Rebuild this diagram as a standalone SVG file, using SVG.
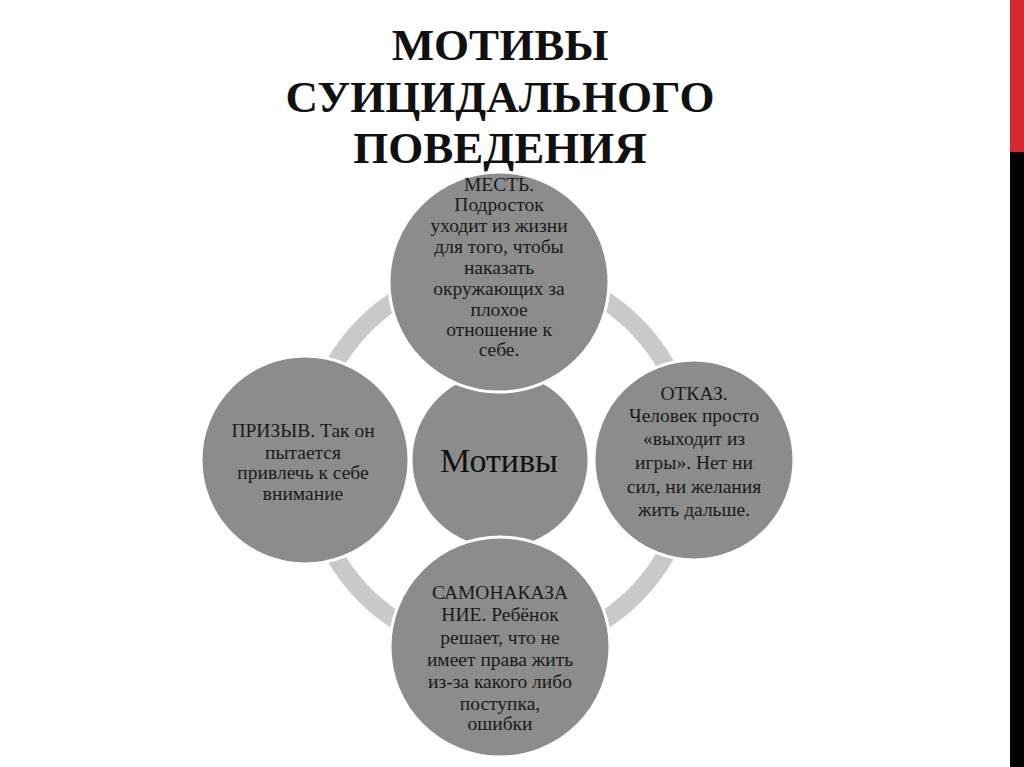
<svg xmlns="http://www.w3.org/2000/svg" width="1024" height="767" viewBox="0 0 1024 767" font-family="Liberation Serif, serif">
<style>
.title{font-family:'Liberation Serif',serif;font-weight:bold;font-size:45px;fill:#111;text-anchor:middle}
.node{fill:#8c8c8c;stroke:#fff;stroke-width:3}
.t{font-family:'Liberation Serif',serif;font-size:19.5px;fill:#1a1a1a;text-anchor:middle}
.c{font-family:'Liberation Serif',serif;font-size:34px;fill:#111;text-anchor:middle}
</style>
<rect width="1024" height="767" fill="#fff"/>
<rect x="1010" y="0" width="14" height="152" fill="#d42a30"/>
<rect x="1010" y="152" width="14" height="615" fill="#000"/>
<g id="title">
<text class="title" x="500" y="60">МОТИВЫ</text>
<text class="title" x="500" y="112">СУИЦИДАЛЬНОГО</text>
<text class="title" x="500" y="163">ПОВЕДЕНИЯ</text>
</g>
<g id="connectors">
<circle cx="500" cy="460" r="191" fill="none" stroke="#c9c9c9" stroke-width="18"/>
</g>
<g id="node-center">
<circle class="node" cx="500" cy="460" r="89"/>
<text class="c" x="499" y="472">Мотивы</text>
</g>
<g id="node-top">
<circle class="node" cx="499" cy="282" r="110"/>
<text class="t" x="499" y="191">МЕСТЬ.</text>
<text class="t" x="499" y="211">Подросток</text>
<text class="t" x="499" y="232">уходит из жизни</text>
<text class="t" x="499" y="253">для того, чтобы</text>
<text class="t" x="499" y="274">наказать</text>
<text class="t" x="499" y="295">окружающих за</text>
<text class="t" x="499" y="316">плохое</text>
<text class="t" x="499" y="336">отношение к</text>
<text class="t" x="499" y="356">себе.</text>
</g>
<g id="node-left">
<circle class="node" cx="305" cy="460" r="104"/>
<text class="t" x="303" y="437">ПРИЗЫВ. Так он</text>
<text class="t" x="303" y="459">пытается</text>
<text class="t" x="303" y="479">привлечь к себе</text>
<text class="t" x="303" y="500">внимание</text>
</g>
<g id="node-right">
<circle class="node" cx="694" cy="460" r="100"/>
<text class="t" x="694" y="400">ОТКАЗ.</text>
<text class="t" x="694" y="422">Человек просто</text>
<text class="t" x="694" y="445">«выходит из</text>
<text class="t" x="694" y="469">игры». Нет ни</text>
<text class="t" x="694" y="493">сил, ни желания</text>
<text class="t" x="694" y="516">жить дальше.</text>
</g>
<g id="node-bottom">
<circle class="node" cx="500" cy="647" r="110"/>
<text class="t" x="500" y="599">САМОНАКАЗА</text>
<text class="t" x="500" y="621">НИЕ. Ребёнок</text>
<text class="t" x="500" y="644">решает, что не</text>
<text class="t" x="500" y="666">имеет права жить</text>
<text class="t" x="500" y="688">из-за какого либо</text>
<text class="t" x="500" y="710">поступка,</text>
<text class="t" x="500" y="730">ошибки</text>
</g>
</svg>
